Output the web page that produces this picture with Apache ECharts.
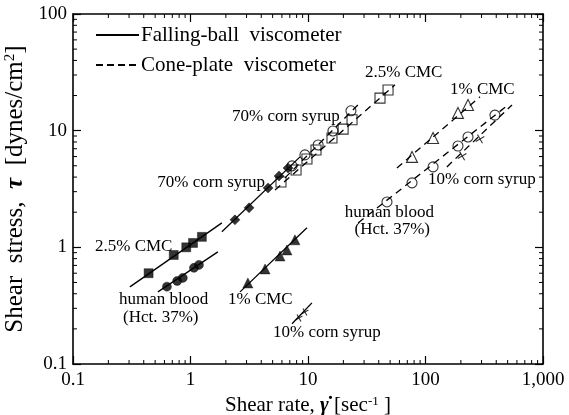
<!DOCTYPE html>
<html><head><meta charset="utf-8">
<script src="https://cdn.jsdelivr.net/npm/echarts@6/dist/echarts.min.js"></script>
<style>html,body{margin:0;padding:0;background:#fff}#c{width:569px;height:415px}</style>
</head><body><div id="c"></div>
<script>
// ---- tick labels ----
const xTickLabels = ['0.1', '1', '10', '100', '1,000'];
const yTickLabels = ['0.1', '1', '10', '100'];
const xMinorTicks = [0.2,0.3,0.4,0.5,0.6,0.7,0.8,0.9,2,3,4,5,6,7,8,9,20,30,40,50,60,70,80,90,200,300,400,500,600,700,800,900];
const yMinorTicks = [0.2,0.3,0.4,0.5,0.6,0.7,0.8,0.9,2,3,4,5,6,7,8,9,20,30,40,50,60,70,80,90];

// ---- Falling-ball viscometer data (filled symbols) [shear rate, shear stress] ----
const cmc25FB   = [[0.44,0.60],[0.72,0.86],[0.92,1.00],[1.05,1.09],[1.25,1.23]];
const bloodFB   = [[0.63,0.46],[0.77,0.515],[0.86,0.547],[1.07,0.667],[1.18,0.707]];
const syrup70FB = [[2.39,1.72],[3.15,2.18],[4.57,3.23],[5.67,4.09],[6.76,4.79]];
const cmc1FB    = [[3.08,0.495],[4.31,0.653],[5.78,0.843],[6.62,0.95],[7.74,1.16]];
const syrup10FB = [[8.38,0.248],[9.42,0.279]];
// fit lines (falling-ball)
const cmc25FBLine   = [[0.305,0.458],[1.85,1.62]];
const bloodFBLine   = [[0.528,0.415],[1.71,0.914]];
const syrup70FBLine = [[1.85,1.36],[8.55,5.96]];
const cmc1FBLine    = [[2.64,0.415],[9.8,1.47]];
const syrup10FBLine = [[7.31,0.221],[10.8,0.334]];

// ---- Cone-plate viscometer data (open symbols) ----
const cmc25CP   = [[5.89,3.63],[7.91,4.60],[9.80,5.71],[11.7,6.83],[16.0,8.66],[19.9,10.3],[23.7,12.4],[41.0,19.0],[48.0,22.3]];
const syrup70CP = [[7.31,4.99],[9.42,6.20],[12.2,7.54],[16.3,9.94],[23.2,14.8]];
const cmc1CP    = [[76.8,5.96],[116,8.66],[189,14.2],[230,16.6]];
const bloodCP   = [[47.0,2.45],[76.8,3.57],[116,4.89],[189,7.39],[230,8.83],[390,13.6]];
const syrup10CP = [[205,6.07],[291,8.49]];
// fit lines (cone-plate)
const cmc25CPLine   = [[5.24,3.10],[55.0,24.7]];
const syrup70CPLine = [[6.37,3.94],[27.7,17.3]];
const cmc1CPLine    = [[57.1,4.79],[291,19.5]];
const bloodCPLine   = [[26.7,1.62],[504,16.6]];
const syrup10CPLine = [[152,4.89],[545,16.6]];

const legendNames = ['Falling-ball  viscometer', 'Cone-plate  viscometer'];

const FONT = '"Liberation Serif", "Times New Roman", serif';
const chart = echarts.init(document.getElementById('c'), null, {renderer: 'canvas'});

function logLabel(labels, minExp) {
  return function (v) { const i = Math.round(Math.log10(v)) - minExp; return labels[i] || ''; };
}
const axisCommon = {
  type: 'log', logBase: 10, interval: 1,
  axisLine: {show: true, lineStyle: {color: '#000', width: 1.6}},
  axisTick: {show: true, inside: true, length: 8, lineStyle: {color: '#000', width: 1.2}},
  splitLine: {show: false}, minorTick: {show: false}
};
function fbLine(d) {
  return {type: 'line', data: d, symbol: 'none', silent: true,
    lineStyle: {color: '#000', width: 1.3, type: 'solid'}, z: 2};
}
function cpLine(d) {
  return {type: 'line', data: d, symbol: 'none', silent: true,
    lineStyle: {color: '#000', width: 1.3, type: [7, 5]}, z: 2};
}
function pts(d, symbol, size, filled, rotate) {
  return {type: 'scatter', data: d, symbol: symbol, symbolSize: size, symbolRotate: rotate || 0, z: 3,
    itemStyle: filled ? {color: '#000', borderColor: '#000', borderWidth: 0.5}
                      : {color: 'rgba(0,0,0,0)', borderColor: '#000', borderWidth: 1.1}};
}
const crossPath = 'path://M0,5L10,5M5,0L5,10';

function minorSeries(vals, isX) {
  return {type: 'custom', coordinateSystem: 'cartesian2d', silent: true, clip: false, z: 1,
    data: vals.map(v => isX ? [v, 1] : [1, v]),
    renderItem: function (params, api) {
      const L = 4, st = {stroke: '#000', lineWidth: 1};
      if (isX) {
        const v = api.value(0);
        const b = api.coord([v, 0.1]), t = api.coord([v, 100]);
        return {type: 'group', children: [
          {type: 'line', shape: {x1: b[0], y1: b[1], x2: b[0], y2: b[1] - L}, style: st},
          {type: 'line', shape: {x1: t[0], y1: t[1], x2: t[0], y2: t[1] + L}, style: st}]};
      } else {
        const v = api.value(1);
        const l = api.coord([0.1, v]), r = api.coord([1000, v]);
        return {type: 'group', children: [
          {type: 'line', shape: {x1: l[0], y1: l[1], x2: l[0] + L, y2: l[1]}, style: st},
          {type: 'line', shape: {x1: r[0], y1: r[1], x2: r[0] - L, y2: r[1]}, style: st}]};
      }
    }};
}

function label(text, x, y, align, size) {
  return {type: 'text', x: x, y: y, z: 10, style: {text: text, font: (size || 17) + 'px ' + FONT, fill: '#000',
    textAlign: align || 'left', textVerticalAlign: 'middle'}};
}

const richAxis = function (big) {
  return {
    n: {fontSize: big, fontFamily: FONT, color: '#000'},
    g: {fontSize: big, fontFamily: FONT, fontStyle: 'italic', fontWeight: 'bold', color: '#000'},
    s: {fontSize: Math.round(big * 0.6), fontFamily: FONT, color: '#000', verticalAlign: 'top', padding: [0, 0, Math.round(big * 0.4), 0]}
  };
};

chart.setOption({
  animation: false,
  backgroundColor: '#fff',
  grid: {left: 73, right: 26, top: 14, bottom: 51, containLabel: false, outerBoundsMode: 'none'},
  xAxis: [
    Object.assign({}, axisCommon, {min: 0.1, max: 1000, position: 'bottom',
      name: '{n|Shear rate, }{g|γ̇}{n| [sec}{s|-1}{n| ]}', nameLocation: 'middle', nameGap: 30,
      nameTextStyle: {fontFamily: FONT, color: '#000', rich: richAxis(21)},
      axisLabel: {formatter: logLabel(xTickLabels, -1), fontFamily: FONT, fontSize: 19, color: '#000', margin: 7}}),
    Object.assign({}, axisCommon, {min: 0.1, max: 1000, position: 'top', axisLabel: {show: false}})
  ],
  yAxis: [
    Object.assign({}, axisCommon, {min: 0.1, max: 100, position: 'left',
      name: '{n|Shear  stress,  }{g|τ}{n|  [dynes/cm}{s|2}{n|]}', nameLocation: 'middle', nameGap: 42, nameRotate: 90,
      nameTextStyle: {fontFamily: FONT, color: '#000', rich: richAxis(25)},
      axisLabel: {formatter: logLabel(yTickLabels, -1), fontFamily: FONT, fontSize: 19, color: '#000', margin: 6}}),
    Object.assign({}, axisCommon, {min: 0.1, max: 100, position: 'right', axisLabel: {show: false}})
  ],
  series: [
    fbLine(cmc25FBLine), fbLine(bloodFBLine), fbLine(syrup70FBLine), fbLine(cmc1FBLine), fbLine(syrup10FBLine),
    cpLine(cmc25CPLine), cpLine(syrup70CPLine), cpLine(cmc1CPLine), cpLine(bloodCPLine), cpLine(syrup10CPLine),
    pts(cmc25FB, 'rect', 9, true), pts(bloodFB, 'circle', 9, true), pts(syrup70FB, 'diamond', 10, true),
    pts(cmc1FB, 'triangle', 10, true), pts(syrup10FB, crossPath, 8, false, 30),
    pts(cmc25CP, 'rect', 10, false), pts(syrup70CP, 'circle', 10, false), pts(cmc1CP, 'triangle', 11, false),
    pts(bloodCP, 'circle', 10, false), pts(syrup10CP, crossPath, 10, false, 30),
    minorSeries(xMinorTicks, true), minorSeries(yMinorTicks, false)
  ],
  graphic: [
    // legend
    {type: 'line', z: 10, shape: {x1: 96, y1: 35, x2: 139, y2: 35}, style: {stroke: '#000', lineWidth: 2}},
    {type: 'line', z: 10, shape: {x1: 96, y1: 65, x2: 139, y2: 65}, style: {stroke: '#000', lineWidth: 2, lineDash: [7, 4]}},
    label(legendNames[0], 141, 35, 'left', 21),
    label(legendNames[1], 141, 65, 'left', 21),
    // annotations
    label('2.5% CMC', 365, 73), label('70% corn syrup', 232, 117), label('70% corn syrup', 265, 183, 'right'),
    label('1% CMC', 450, 90), label('10% corn syrup', 428, 180),
    label('human blood', 434, 213, 'right'), label('(Hct. 37%)', 430, 230, 'right'),
    label('2.5% CMC', 95, 247), label('human blood', 119, 300), label('(Hct. 37%)', 123, 318),
    label('1% CMC', 228, 300), label('10% corn syrup', 273, 333)
  ]
});
</script></body></html>
